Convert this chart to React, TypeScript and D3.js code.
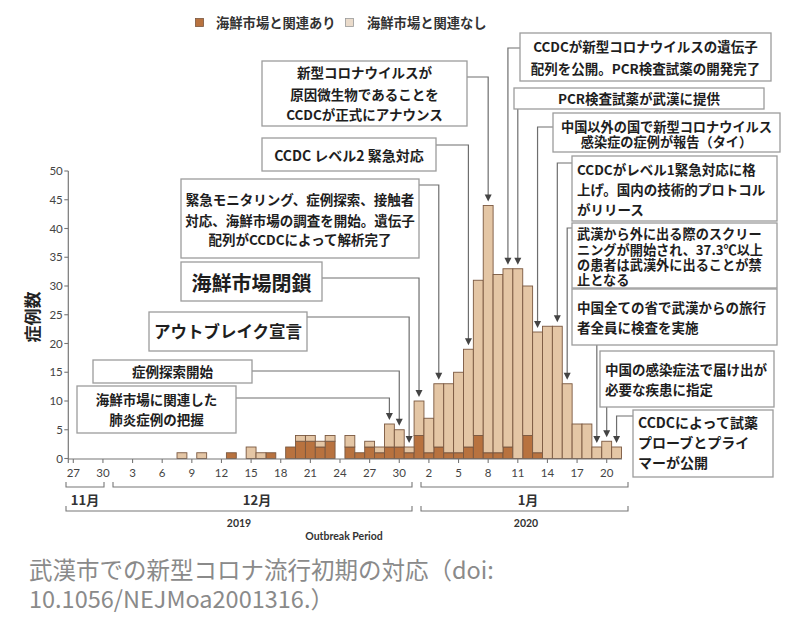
import React from 'react';
import * as d3 from 'd3';

// ---- data ----
const dates = [
  '2019-12-08', '2019-12-10', '2019-12-13', '2019-12-15', '2019-12-16', '2019-12-17',
  '2019-12-19', '2019-12-20', '2019-12-21', '2019-12-22', '2019-12-23', '2019-12-25',
  '2019-12-26', '2019-12-27', '2019-12-28', '2019-12-29', '2019-12-30', '2019-12-31',
  '2020-01-01', '2020-01-02', '2020-01-03', '2020-01-04', '2020-01-05', '2020-01-06',
  '2020-01-07', '2020-01-08', '2020-01-09', '2020-01-10', '2020-01-11', '2020-01-12',
  '2020-01-13', '2020-01-14', '2020-01-15', '2020-01-16', '2020-01-17', '2020-01-18',
  '2020-01-19', '2020-01-20', '2020-01-21',
];
const linked = [
  0, 0, 1, 0, 0, 1,
  2, 3, 3, 2, 3, 2,
  1, 2, 1, 2, 2, 1,
  4, 1, 2, 1, 1, 2,
  4, 1, 1, 2, 0, 4,
  1, 0, 0, 0, 0, 0,
  0, 0, 0,
];
const notLinked = [
  1, 1, 0, 2, 1, 0,
  0, 1, 1, 1, 1, 2,
  0, 1, 1, 4, 3, 1,
  6, 6, 11, 12, 14, 17,
  27, 43, 31, 31, 33, 26,
  21, 23, 23, 13, 6, 6,
  2, 3, 2,
];
const yTicks = [0, 5, 10, 15, 20, 25, 30, 35, 40, 45, 50];
const xTickDates = [
  '2019-11-27', '2019-11-30', '2019-12-03', '2019-12-06', '2019-12-09', '2019-12-12',
  '2019-12-15', '2019-12-18', '2019-12-21', '2019-12-24', '2019-12-27', '2019-12-30',
  '2020-01-02', '2020-01-05', '2020-01-08', '2020-01-11', '2020-01-14', '2020-01-17', '2020-01-20',
];
const xTickLabels = ['27', '30', '3', '6', '9', '12', '15', '18', '21', '24', '27', '30', '2', '5', '8', '11', '14', '17', '20'];
const seriesNames = ['海鮮市場と関連あり', '海鮮市場と関連なし'];
const monthLabels = ['11月', '12月', '1月'];
const yearLabels = ['2019', '2020'];

type Ann = {
  date: string; lines: string[]; x: number; y: number; w: number; h: number;
  fs: number; align: 'middle' | 'start'; ly: number[]; route: 'right' | 'left' | 'bottom'; cy?: number;
};
const annotations: Ann[] = [
  { date: '2020-01-08', lines: ['新型コロナウイルスが', '原因微生物であることを', 'CCDCが正式にアナウンス'], x: 262, y: 61, w: 205, h: 65, fs: 13.5, align: 'middle', ly: [78, 100, 120], route: 'right', cy: 77 },
  { date: '2020-01-06', lines: ['CCDC レベル2 緊急対応'], x: 262, y: 138, w: 174, h: 33, fs: 14, align: 'middle', ly: [160.5], route: 'right', cy: 145 },
  { date: '2020-01-03', lines: ['緊急モニタリング、症例探索、接触者', '対応、海鮮市場の調査を開始。遺伝子', '配列がCCDCによって解析完了'], x: 181, y: 179, w: 238, h: 79, fs: 13.5, align: 'middle', ly: [205, 226, 245], route: 'right', cy: 185 },
  { date: '2020-01-01', lines: ['海鮮市場閉鎖'], x: 181, y: 262, w: 141, h: 39, fs: 20, align: 'middle', ly: [290.5], route: 'right', cy: 278 },
  { date: '2019-12-31', lines: ['アウトブレイク宣言'], x: 149, y: 312, w: 158, h: 39, fs: 16.5, align: 'middle', ly: [337.5], route: 'right', cy: 317 },
  { date: '2019-12-30', lines: ['症例探索開始'], x: 93, y: 360, w: 159, h: 23, fs: 13.5, align: 'middle', ly: [376.5], route: 'right', cy: 371 },
  { date: '2019-12-29', lines: ['海鮮市場に関連した', '肺炎症例の把握'], x: 77, y: 386, w: 159, h: 47, fs: 13.5, align: 'middle', ly: [405, 425], route: 'right', cy: 398 },
  { date: '2020-01-10', lines: ['CCDCが新型コロナウイルスの遺伝子', '配列を公開。PCR検査試薬の開発完了'], x: 520, y: 33, w: 251, h: 48, fs: 13.5, align: 'middle', ly: [51.5, 73.5], route: 'left', cy: 48 },
  { date: '2020-01-11', lines: ['PCR検査試薬が武漢に提供'], x: 514, y: 88, w: 250, h: 21, fs: 13.5, align: 'middle', ly: [104], route: 'bottom' },
  { date: '2020-01-13', lines: ['中国以外の国で新型コロナウイルス', '感染症の症例が報告（タイ）'], x: 553, y: 113, w: 227, h: 39, fs: 13.2, align: 'middle', ly: [131.5, 147], route: 'left', cy: 127 },
  { date: '2020-01-15', lines: ['CCDCがレベル1緊急対応に格', '上げ。国内の技術的プロトコル', 'がリリース'], x: 572, y: 156, w: 205, h: 65, fs: 13.5, align: 'start', ly: [175, 195, 215], route: 'left', cy: 163 },
  { date: '2020-01-16', lines: ['武漢から外に出る際のスクリー', 'ニングが開始され、37.3℃以上', 'の患者は武漢外に出ることが禁', '止となる'], x: 572, y: 223, w: 205, h: 65, fs: 13.2, align: 'start', ly: [239, 254.5, 270, 285], route: 'left', cy: 228 },
  { date: '2020-01-19', lines: ['中国全ての省で武漢からの旅行', '者全員に検査を実施'], x: 572, y: 289, w: 205, h: 56, fs: 13.5, align: 'start', ly: [313, 333], route: 'bottom' },
  { date: '2020-01-20', lines: ['中国の感染症法で届け出が', '必要な疾患に指定'], x: 600, y: 351, w: 174, h: 56, fs: 13.5, align: 'start', ly: [375, 395], route: 'bottom' },
  { date: '2020-01-21', lines: ['CCDCによって試薬', 'プローブとプライ', 'マーが公開'], x: 633, y: 410, w: 140, h: 67, fs: 14, align: 'start', ly: [428, 448, 468], route: 'left', cy: 416 },
];

const parse = d3.utcParse('%Y-%m-%d');
const JP = "'Noto Sans CJK JP', 'Noto Sans', sans-serif";
const NUM = "Lato, 'Open Sans', sans-serif";
const DARK = '#b8723f';
const LIGHT = '#e4c6a5';
const BAR_STROKE = '#7a5840';
const BOX_STROKE = '#9c9c9c';
const LINE = '#6e6e6e';

export default function App() {
  const x = d3.scaleUtc()
    .domain([parse('2019-11-27') as Date, parse('2020-01-20') as Date])
    .range([73.3, 606.7]);
  const y = d3.scaleLinear().domain([0, 50]).range([458.5, 171]);
  const dayW = x(parse('2019-11-28') as Date) - x(parse('2019-11-27') as Date);

  const rows = dates.map((d, i) => ({ date: parse(d) as Date, linked: linked[i], notLinked: notLinked[i] }));
  const stack = d3.stack<any>().keys(['linked', 'notLinked'])(rows);
  const colors = [DARK, LIGHT];
  const totalOf = (ds: string) => {
    const i = dates.indexOf(ds);
    return linked[i] + notLinked[i];
  };

  const axisY = 459;
  const axisX = 68.3;

  const bracket = (x0: number, x1: number, yb: number, key: string) => (
    <path key={key} d={`M${x0},${yb - 5}V${yb}H${x1}V${yb - 5}`} fill="none" stroke="#777" strokeWidth={1.1} />
  );

  return (
    <svg width={800} height={624} style={{ position: 'absolute', left: 0, top: 0, background: '#fff' }}>
      {/* legend */}
      <rect x={195.5} y={18.5} width={8} height={8} fill={DARK} stroke={BAR_STROKE} strokeWidth={0.8} />
      <text x={216} y={28} fontFamily={JP} fontWeight={700} fontSize={13.3} fill="#333">{seriesNames[0]}</text>
      <rect x={345.5} y={18.5} width={8} height={8} fill={'#eadbcb'} stroke="#999" strokeWidth={0.8} />
      <text x={367} y={28} fontFamily={JP} fontWeight={700} fontSize={13.3} fill="#333">{seriesNames[1]}</text>

      {/* bars */}
      {stack.map((s, si) => (
        <g key={si}>
          {s.map((d, i) => (
            d[1] - d[0] > 0 ? (
              <rect key={i}
                x={x(rows[i].date) - dayW / 2}
                y={y(d[1])}
                width={dayW}
                height={y(d[0]) - y(d[1])}
                fill={colors[si]} stroke={BAR_STROKE} strokeWidth={0.9} />
            ) : null
          ))}
        </g>
      ))}

      {/* y axis */}
      <line x1={axisX} x2={axisX} y1={171} y2={axisY + 4} stroke="#777" strokeWidth={1.2} />
      {yTicks.map((t) => (
        <g key={t}>
          <line x1={axisX - 4} x2={axisX} y1={y(t)} y2={y(t)} stroke="#777" strokeWidth={1.1} />
          <text x={axisX - 5.5} y={y(t) + 4} textAnchor="end" fontFamily={NUM} fontSize={11.5} fill="#444">{t}</text>
        </g>
      ))}
      <text transform="translate(39,317) rotate(-90)" textAnchor="middle" fontFamily={JP} fontWeight={700} fontSize={17} fill="#222">症例数</text>

      {/* x axis */}
      <line x1={axisX} x2={622} y1={axisY} y2={axisY} stroke="#777" strokeWidth={1.2} />
      {xTickDates.map((d, i) => {
        const px = x(parse(d) as Date);
        return (
          <g key={d}>
            <line x1={px} x2={px} y1={axisY} y2={axisY + 4} stroke="#777" strokeWidth={1.1} />
            <text x={px} y={477} textAnchor="middle" fontFamily={NUM} fontSize={11.5} fill="#444">{xTickLabels[i]}</text>
          </g>
        );
      })}

      {/* period brackets */}
      {bracket(66, 104, 487, 'b11')}
      {bracket(113, 412, 487, 'b12')}
      {bracket(421, 628, 487, 'b1')}
      <text x={85} y={505} textAnchor="middle" fontFamily={JP} fontWeight={700} fontSize={13} fill="#333">{monthLabels[0]}</text>
      <text x={257} y={505} textAnchor="middle" fontFamily={JP} fontWeight={700} fontSize={13} fill="#333">{monthLabels[1]}</text>
      <text x={528} y={505} textAnchor="middle" fontFamily={JP} fontWeight={700} fontSize={13} fill="#333">{monthLabels[2]}</text>
      {bracket(66, 412, 511, 'y19')}
      {bracket(421, 628, 511, 'y20')}
      <text x={239} y={527} textAnchor="middle" fontFamily={NUM} fontWeight={700} fontSize={10.5} fill="#333">{yearLabels[0]}</text>
      <text x={526} y={527} textAnchor="middle" fontFamily={NUM} fontWeight={700} fontSize={10.5} fill="#333">{yearLabels[1]}</text>
      <text x={344} y={540} textAnchor="middle" fontFamily={NUM} fontWeight={700} fontSize={10.5} fill="#333">Outbreak Period</text>

      {/* annotations */}
      {annotations.map((a, i) => {
        const ax = x(parse(a.date) as Date);
        const tip = y(totalOf(a.date)) - 4;
        let path = '';
        if (a.route === 'right') path = `M${a.x + a.w},${a.cy}H${ax}V${tip - 6}`;
        else if (a.route === 'left') path = `M${a.x},${a.cy}H${ax}V${tip - 6}`;
        else path = `M${ax},${a.y + a.h}V${tip - 6}`;
        const tx = a.align === 'middle' ? a.x + a.w / 2 : a.x + 5;
        return (
          <g key={i}>
            <path d={path} fill="none" stroke={LINE} strokeWidth={1.2} />
            <path d={`M${ax - 3.5},${tip - 7}L${ax + 3.5},${tip - 7}L${ax},${tip}Z`} fill="#444" />
            <rect x={a.x} y={a.y} width={a.w} height={a.h} fill="#fff" stroke={BOX_STROKE} strokeWidth={1.3} />
            {a.lines.map((l, j) => (
              <text key={j} x={tx} y={a.ly[j]} textAnchor={a.align} fontFamily={JP} fontWeight={700} fontSize={a.fs} fill="#1e1e1e">{l}</text>
            ))}
          </g>
        );
      })}

      {/* caption */}
      <text x={29} y={579} fontFamily={JP} fontSize={23.5} fill="#8a8a8a">武漢市での新型コロナ流行初期の対応（doi:</text>
      <text x={29} y={608} fontFamily={JP} fontSize={23.5} fill="#8a8a8a">10.1056/NEJMoa2001316.）</text>
    </svg>
  );
}
